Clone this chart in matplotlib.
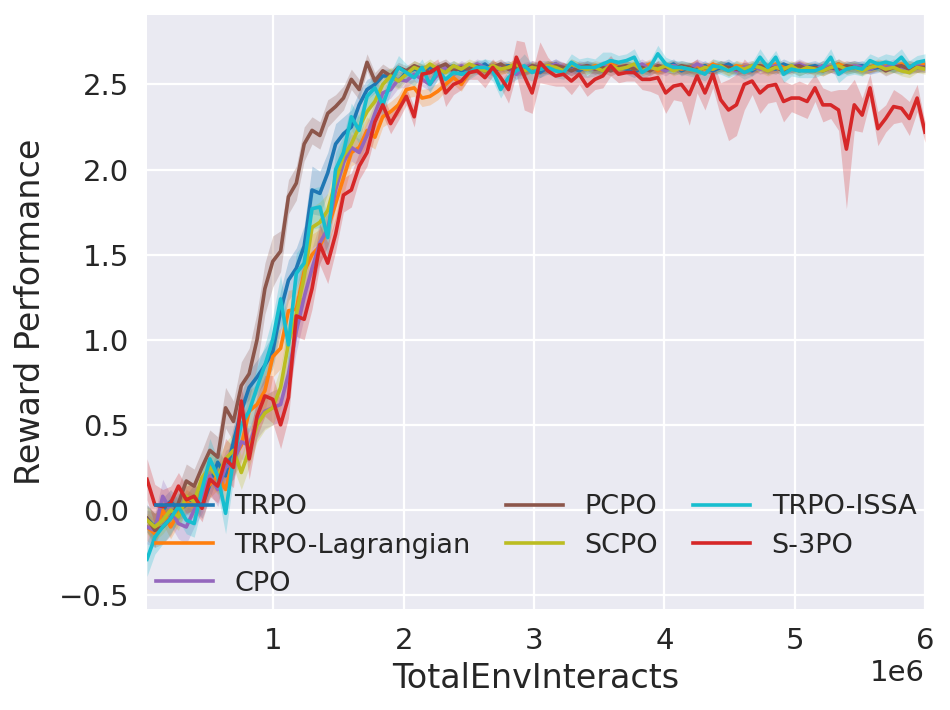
import numpy as np
import matplotlib
matplotlib.use("Agg")
import matplotlib.pyplot as plt

# ---------------- data ----------------
steps = np.linspace(3e4, 6e6, 100)

labels = ["TRPO", "TRPO-Lagrangian", "CPO", "PCPO", "SCPO", "TRPO-ISSA", "S-3PO"]
colors = ["#1f77b4", "#ff7f0e", "#9467bd", "#8c564b", "#bcbd22", "#17becf", "#d62728"]

trpo = [
    -0.05, -0.10, 0.00, 0.05, 0.00, 0.03, 0.08, 0.02, 0.15, 0.28,
    0.20, 0.40, 0.58, 0.72, 0.78, 0.85, 0.93, 1.17, 1.35, 1.42,
    1.55, 1.88, 1.86, 1.98, 2.15, 2.21, 2.25, 2.38, 2.47, 2.50,
    2.55, 2.55, 2.52, 2.57, 2.59, 2.58, 2.60, 2.57, 2.59, 2.61,
    2.58, 2.60, 2.59, 2.62, 2.58, 2.60, 2.61, 2.58, 2.59, 2.60,
    2.57, 2.60, 2.62, 2.59, 2.60, 2.58, 2.61, 2.60, 2.58, 2.62,
    2.60, 2.59, 2.57, 2.60, 2.61, 2.59, 2.60, 2.62, 2.58, 2.60,
    2.59, 2.61, 2.58, 2.60, 2.62, 2.59, 2.60, 2.58, 2.61, 2.60,
    2.59, 2.62, 2.60, 2.58, 2.60, 2.61, 2.59, 2.60, 2.62, 2.59,
    2.60, 2.61, 2.59, 2.60, 2.62, 2.60, 2.59, 2.61, 2.60, 2.61]
trpo_std = [
    0.08, 0.08, 0.07, 0.07, 0.06, 0.06, 0.07, 0.07, 0.08, 0.08,
    0.08, 0.09, 0.10, 0.10, 0.10, 0.10, 0.10, 0.12, 0.12, 0.12,
    0.12, 0.14, 0.13, 0.12, 0.12, 0.10, 0.10, 0.08, 0.06, 0.05,
    0.04, 0.04, 0.04, 0.03, 0.03, 0.03, 0.03, 0.03, 0.03, 0.03,
    0.03, 0.03, 0.03, 0.03, 0.03, 0.03, 0.03, 0.03, 0.03, 0.03,
    0.03, 0.03, 0.03, 0.03, 0.03, 0.03, 0.03, 0.03, 0.03, 0.03,
    0.03, 0.03, 0.03, 0.03, 0.03, 0.03, 0.03, 0.03, 0.03, 0.03,
    0.03, 0.03, 0.03, 0.03, 0.03, 0.03, 0.03, 0.03, 0.03, 0.03,
    0.03, 0.03, 0.03, 0.03, 0.03, 0.03, 0.03, 0.03, 0.03, 0.03,
    0.03, 0.03, 0.03, 0.03, 0.03, 0.03, 0.03, 0.03, 0.03, 0.03]

trpo_lag = [
    -0.10, -0.14, 0.00, -0.10, -0.02, 0.05, 0.02, 0.10, 0.15, 0.20,
    0.12, 0.30, 0.38, 0.58, 0.62, 0.70, 0.90, 0.95, 1.17, 1.18,
    1.40, 1.50, 1.55, 1.65, 1.80, 1.95, 2.10, 2.13, 2.23, 2.19,
    2.31, 2.34, 2.38, 2.47, 2.48, 2.42, 2.43, 2.46, 2.50, 2.54,
    2.50, 2.57, 2.60, 2.58, 2.61, 2.59, 2.60, 2.62, 2.58, 2.60,
    2.59, 2.61, 2.60, 2.58, 2.62, 2.60, 2.59, 2.61, 2.60, 2.62,
    2.60, 2.61, 2.59, 2.60, 2.62, 2.58, 2.60, 2.61, 2.59, 2.60,
    2.61, 2.59, 2.62, 2.60, 2.58, 2.61, 2.60, 2.59, 2.61, 2.60,
    2.62, 2.60, 2.59, 2.61, 2.60, 2.58, 2.61, 2.60, 2.62, 2.60,
    2.61, 2.59, 2.60, 2.62, 2.61, 2.60, 2.62, 2.61, 2.60, 2.62]
trpo_lag_std = [
    0.08, 0.08, 0.08, 0.07, 0.07, 0.07, 0.07, 0.08, 0.08, 0.08,
    0.09, 0.10, 0.10, 0.12, 0.12, 0.12, 0.12, 0.12, 0.12, 0.12,
    0.12, 0.12, 0.10, 0.10, 0.10, 0.10, 0.08, 0.08, 0.08, 0.07,
    0.06, 0.06, 0.06, 0.05, 0.05, 0.05, 0.05, 0.05, 0.04, 0.04,
    0.04, 0.03, 0.03, 0.03, 0.03, 0.03, 0.03, 0.03, 0.03, 0.03,
    0.03, 0.03, 0.03, 0.03, 0.03, 0.03, 0.03, 0.03, 0.03, 0.03,
    0.03, 0.03, 0.03, 0.03, 0.03, 0.03, 0.03, 0.03, 0.03, 0.03,
    0.03, 0.03, 0.03, 0.03, 0.03, 0.03, 0.03, 0.03, 0.03, 0.03,
    0.03, 0.03, 0.03, 0.03, 0.03, 0.03, 0.03, 0.03, 0.03, 0.03,
    0.03, 0.03, 0.03, 0.03, 0.03, 0.03, 0.03, 0.03, 0.03, 0.03]

cpo = [
    -0.10, -0.12, 0.08, 0.00, -0.08, -0.10, 0.00, 0.08, 0.20, 0.12,
    0.25, 0.28, 0.40, 0.38, 0.52, 0.58, 0.60, 0.62, 0.80, 1.05,
    1.25, 1.42, 1.57, 1.65, 1.88, 2.04, 2.13, 2.10, 2.20, 2.33,
    2.45, 2.47, 2.53, 2.52, 2.56, 2.53, 2.50, 2.56, 2.60, 2.58,
    2.61, 2.59, 2.62, 2.60, 2.58, 2.61, 2.59, 2.56, 2.60, 2.61,
    2.59, 2.60, 2.62, 2.60, 2.58, 2.61, 2.60, 2.59, 2.61, 2.60,
    2.59, 2.61, 2.60, 2.62, 2.59, 2.60, 2.58, 2.61, 2.60, 2.59,
    2.62, 2.60, 2.59, 2.61, 2.60, 2.58, 2.60, 2.61, 2.59, 2.60,
    2.61, 2.59, 2.60, 2.62, 2.60, 2.59, 2.61, 2.60, 2.58, 2.60,
    2.61, 2.60, 2.59, 2.61, 2.60, 2.62, 2.60, 2.59, 2.61, 2.60]
cpo_std = [
    0.10, 0.10, 0.10, 0.09, 0.09, 0.10, 0.10, 0.10, 0.10, 0.10,
    0.10, 0.10, 0.10, 0.10, 0.10, 0.10, 0.10, 0.10, 0.12, 0.12,
    0.12, 0.12, 0.12, 0.10, 0.10, 0.10, 0.08, 0.08, 0.08, 0.07,
    0.06, 0.05, 0.05, 0.04, 0.04, 0.04, 0.04, 0.03, 0.03, 0.03,
    0.03, 0.03, 0.03, 0.03, 0.03, 0.03, 0.03, 0.03, 0.03, 0.03,
    0.03, 0.03, 0.03, 0.03, 0.03, 0.03, 0.03, 0.03, 0.03, 0.03,
    0.03, 0.03, 0.03, 0.03, 0.03, 0.03, 0.03, 0.03, 0.03, 0.03,
    0.03, 0.03, 0.03, 0.03, 0.03, 0.03, 0.03, 0.03, 0.03, 0.03,
    0.03, 0.03, 0.03, 0.03, 0.03, 0.03, 0.03, 0.03, 0.03, 0.03,
    0.03, 0.03, 0.03, 0.03, 0.03, 0.03, 0.03, 0.03, 0.03, 0.03]

pcpo = [
    -0.05, -0.12, -0.10, -0.05, 0.04, 0.17, 0.14, 0.25, 0.35, 0.31,
    0.60, 0.52, 0.73, 0.80, 1.00, 1.30, 1.46, 1.52, 1.84, 1.92,
    2.15, 2.23, 2.20, 2.33, 2.37, 2.42, 2.53, 2.47, 2.63, 2.52,
    2.58, 2.55, 2.60, 2.58, 2.61, 2.59, 2.57, 2.60, 2.62, 2.58,
    2.60, 2.59, 2.61, 2.58, 2.60, 2.62, 2.59, 2.60, 2.58, 2.61,
    2.60, 2.59, 2.61, 2.60, 2.58, 2.60, 2.61, 2.59, 2.60, 2.58,
    2.60, 2.61, 2.59, 2.60, 2.58, 2.61, 2.60, 2.59, 2.61, 2.60,
    2.58, 2.60, 2.59, 2.61, 2.60, 2.59, 2.58, 2.60, 2.61, 2.59,
    2.60, 2.58, 2.60, 2.61, 2.59, 2.60, 2.58, 2.60, 2.59, 2.61,
    2.60, 2.59, 2.60, 2.61, 2.58, 2.60, 2.61, 2.59, 2.60, 2.60]
pcpo_std = [
    0.08, 0.10, 0.10, 0.10, 0.10, 0.10, 0.10, 0.10, 0.12, 0.12,
    0.12, 0.12, 0.14, 0.15, 0.16, 0.15, 0.15, 0.12, 0.10, 0.10,
    0.10, 0.08, 0.08, 0.08, 0.07, 0.07, 0.06, 0.06, 0.05, 0.05,
    0.04, 0.04, 0.03, 0.03, 0.03, 0.03, 0.03, 0.03, 0.03, 0.03,
    0.03, 0.03, 0.03, 0.03, 0.03, 0.03, 0.03, 0.03, 0.03, 0.03,
    0.03, 0.03, 0.03, 0.03, 0.03, 0.03, 0.03, 0.03, 0.03, 0.03,
    0.03, 0.03, 0.03, 0.03, 0.03, 0.03, 0.03, 0.03, 0.03, 0.03,
    0.03, 0.03, 0.03, 0.03, 0.03, 0.03, 0.03, 0.03, 0.03, 0.03,
    0.03, 0.03, 0.03, 0.03, 0.03, 0.03, 0.03, 0.03, 0.03, 0.03,
    0.03, 0.03, 0.03, 0.03, 0.03, 0.03, 0.03, 0.03, 0.03, 0.03]

scpo = [
    -0.06, -0.10, -0.06, 0.00, -0.04, 0.08, 0.05, 0.19, 0.25, 0.19,
    0.30, 0.35, 0.22, 0.35, 0.50, 0.57, 0.60, 0.72, 0.98, 1.15,
    1.37, 1.66, 1.69, 1.76, 1.93, 2.08, 2.15, 2.25, 2.34, 2.40,
    2.50, 2.55, 2.52, 2.56, 2.60, 2.58, 2.62, 2.59, 2.57, 2.61,
    2.59, 2.62, 2.60, 2.58, 2.61, 2.59, 2.60, 2.62, 2.58, 2.60,
    2.59, 2.61, 2.60, 2.58, 2.62, 2.60, 2.59, 2.60, 2.58, 2.61,
    2.59, 2.60, 2.62, 2.58, 2.60, 2.59, 2.61, 2.58, 2.60, 2.59,
    2.58, 2.60, 2.59, 2.61, 2.58, 2.60, 2.59, 2.61, 2.60, 2.58,
    2.60, 2.59, 2.61, 2.58, 2.60, 2.59, 2.58, 2.60, 2.61, 2.59,
    2.60, 2.58, 2.60, 2.61, 2.59, 2.60, 2.58, 2.57, 2.60, 2.59]
scpo_std = [
    0.08, 0.08, 0.08, 0.08, 0.08, 0.08, 0.08, 0.09, 0.10, 0.10,
    0.10, 0.10, 0.10, 0.10, 0.10, 0.10, 0.10, 0.12, 0.12, 0.12,
    0.12, 0.12, 0.12, 0.10, 0.10, 0.10, 0.08, 0.08, 0.07, 0.06,
    0.06, 0.05, 0.05, 0.04, 0.04, 0.04, 0.03, 0.03, 0.03, 0.03,
    0.03, 0.03, 0.03, 0.03, 0.03, 0.03, 0.03, 0.03, 0.03, 0.03,
    0.03, 0.03, 0.03, 0.03, 0.03, 0.03, 0.03, 0.03, 0.03, 0.03,
    0.03, 0.03, 0.03, 0.03, 0.03, 0.03, 0.03, 0.03, 0.03, 0.03,
    0.03, 0.03, 0.03, 0.03, 0.03, 0.03, 0.03, 0.03, 0.03, 0.03,
    0.03, 0.03, 0.03, 0.03, 0.03, 0.03, 0.03, 0.03, 0.03, 0.03,
    0.03, 0.03, 0.03, 0.03, 0.03, 0.03, 0.03, 0.03, 0.03, 0.03]

trpo_issa = [
    -0.29, -0.16, -0.10, -0.05, 0.02, -0.06, -0.08, 0.12, 0.30, 0.20,
    -0.02, 0.30, 0.50, 0.58, 0.72, 0.85, 1.00, 1.24, 0.97, 1.39,
    1.45, 1.77, 1.78, 1.60, 2.00, 2.10, 2.31, 2.23, 2.43, 2.48,
    2.38, 2.51, 2.60, 2.57, 2.54, 2.60, 2.50, 2.58, 2.53, 2.57,
    2.56, 2.57, 2.60, 2.60, 2.58, 2.47, 2.54, 2.58, 2.61, 2.57,
    2.59, 2.60, 2.58, 2.57, 2.63, 2.60, 2.60, 2.60, 2.62, 2.64,
    2.63, 2.64, 2.66, 2.57, 2.60, 2.68, 2.62, 2.60, 2.60, 2.59,
    2.58, 2.56, 2.61, 2.60, 2.58, 2.60, 2.57, 2.59, 2.66, 2.60,
    2.66, 2.56, 2.59, 2.58, 2.58, 2.58, 2.60, 2.66, 2.56, 2.59,
    2.60, 2.59, 2.64, 2.62, 2.63, 2.62, 2.66, 2.60, 2.63, 2.64]
trpo_issa_std = [
    0.10, 0.10, 0.10, 0.09, 0.08, 0.08, 0.08, 0.10, 0.12, 0.10,
    0.12, 0.12, 0.12, 0.12, 0.12, 0.12, 0.14, 0.14, 0.12, 0.12,
    0.12, 0.12, 0.12, 0.12, 0.10, 0.10, 0.08, 0.08, 0.07, 0.07,
    0.07, 0.06, 0.07, 0.05, 0.05, 0.05, 0.05, 0.05, 0.05, 0.04,
    0.04, 0.04, 0.04, 0.05, 0.06, 0.05, 0.04, 0.05, 0.07, 0.05,
    0.05, 0.04, 0.04, 0.04, 0.05, 0.05, 0.06, 0.05, 0.07, 0.05,
    0.04, 0.04, 0.05, 0.05, 0.04, 0.05, 0.04, 0.04, 0.04, 0.04,
    0.04, 0.04, 0.04, 0.04, 0.04, 0.04, 0.04, 0.04, 0.05, 0.04,
    0.04, 0.05, 0.04, 0.04, 0.04, 0.04, 0.04, 0.05, 0.05, 0.04,
    0.04, 0.04, 0.04, 0.04, 0.05, 0.05, 0.05, 0.04, 0.04, 0.04]

s3po = [
    0.18, 0.03, 0.02, 0.04, 0.14, 0.06, 0.08, 0.01, 0.18, 0.14,
    0.30, 0.25, 0.64, 0.30, 0.55, 0.67, 0.65, 0.50, 0.66, 1.14,
    1.12, 1.30, 1.56, 1.45, 1.62, 1.85, 1.88, 2.02, 2.10, 2.28,
    2.38, 2.27, 2.35, 2.43, 2.31, 2.56, 2.57, 2.60, 2.45, 2.50,
    2.52, 2.57, 2.58, 2.54, 2.60, 2.54, 2.47, 2.66, 2.55, 2.45,
    2.63, 2.58, 2.55, 2.56, 2.52, 2.56, 2.49, 2.53, 2.55, 2.61,
    2.56, 2.57, 2.57, 2.53, 2.53, 2.54, 2.45, 2.49, 2.50, 2.44,
    2.55, 2.45, 2.56, 2.41, 2.35, 2.38, 2.50, 2.52, 2.45, 2.49,
    2.50, 2.40, 2.42, 2.42, 2.40, 2.48, 2.38, 2.38, 2.35, 2.12,
    2.38, 2.32, 2.48, 2.24, 2.30, 2.37, 2.36, 2.30, 2.42, 2.22]
s3po_std = [
    0.12, 0.12, 0.10, 0.10, 0.08, 0.08, 0.08, 0.08, 0.10, 0.10,
    0.12, 0.12, 0.10, 0.12, 0.12, 0.12, 0.14, 0.14, 0.12, 0.12,
    0.12, 0.12, 0.12, 0.12, 0.10, 0.10, 0.10, 0.08, 0.08, 0.08,
    0.06, 0.06, 0.06, 0.05, 0.06, 0.05, 0.05, 0.05, 0.08, 0.06,
    0.05, 0.04, 0.05, 0.06, 0.05, 0.06, 0.08, 0.10, 0.20, 0.12,
    0.12, 0.08, 0.06, 0.07, 0.08, 0.06, 0.06, 0.06, 0.07, 0.06,
    0.05, 0.05, 0.05, 0.06, 0.07, 0.10, 0.12, 0.08, 0.10, 0.18,
    0.10, 0.10, 0.08, 0.10, 0.18, 0.18, 0.15, 0.08, 0.12, 0.10,
    0.10, 0.12, 0.08, 0.10, 0.10, 0.08, 0.10, 0.08, 0.12, 0.35,
    0.15, 0.10, 0.08, 0.10, 0.08, 0.10, 0.08, 0.10, 0.08, 0.06]

series = [trpo, trpo_lag, cpo, pcpo, scpo, trpo_issa, s3po]
stds = [trpo_std, trpo_lag_std, cpo_std, pcpo_std, scpo_std, trpo_issa_std, s3po_std]

xticks = [1e6, 2e6, 3e6, 4e6, 5e6, 6e6]
yticks = [-0.5, 0.0, 0.5, 1.0, 1.5, 2.0, 2.5]

# ---------------- plot ----------------
plt.rcParams['font.family'] = ['DejaVu Sans']
fig = plt.figure(figsize=(9.5, 7.1), dpi=100)
ax = fig.add_axes([147/950, 1 - 609/710, (925-147)/950, (609-15)/710])
ax.set_facecolor('#EAEAF2')
for sp in ax.spines.values():
    sp.set_visible(False)
ax.grid(True, color='white', linewidth=1.6)
ax.set_axisbelow(True)

for lab, col, m, s in zip(labels, colors, series, stds):
    m = np.array(m)
    s = np.array(s)
    ax.fill_between(steps, m - s, m + s, color=col, alpha=0.25, linewidth=0)
    ax.plot(steps, m, color=col, linewidth=2.6, label=lab)

ax.set_xlim(3e4, 6e6)
ax.set_ylim(-0.582, 2.908)
ax.set_xticks(xticks)
ax.set_yticks(yticks)
ax.tick_params(axis='both', length=0, pad=13, labelsize=21, colors='#262626')
ax.xaxis.get_offset_text().set_fontsize(21)
ax.xaxis.get_offset_text().set_color('#262626')
ax.set_xlabel('TotalEnvInteracts', fontsize=24, color='#262626', labelpad=5)
ax.set_ylabel('Reward Performance', fontsize=24, color='#262626', labelpad=8)

leg = ax.legend(ncol=3, loc='lower center', frameon=False, fontsize=19.5,
                handlelength=2.1, columnspacing=1.3, handletextpad=0.8,
                labelspacing=0.45, borderaxespad=0.05)
for t in leg.get_texts():
    t.set_color('#262626')

fig.savefig('out.png', dpi=100)
